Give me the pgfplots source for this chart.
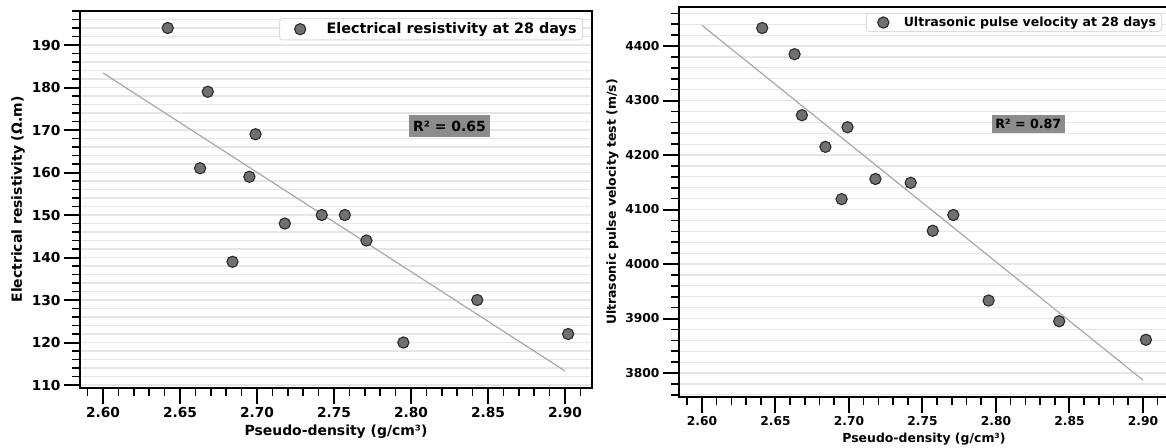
\documentclass[border=0pt]{standalone}
\usepackage{fontspec}
\setmainfont{DejaVu Sans}
\usepackage{pgfplots}
\pgfplotsset{compat=1.18}

\definecolor{ptfill}{HTML}{707070}
\definecolor{ptedge}{HTML}{2B2B2B}
\definecolor{gridc}{HTML}{E6E6E6}
\definecolor{fitc}{HTML}{A8A8A8}
\definecolor{rbox}{HTML}{8C8C8C}
\definecolor{legc}{HTML}{DDDDDD}

\pgfplotsset{
  commonstyle/.style={
    scale only axis,
    axis line style={line width=2bp, black},
    tick align=outside,
    tick pos=left,
    major tick length=16bp,
    minor tick length=8bp,
    tick style={black, line width=2bp},
    minor tick style={line width=1.6bp},
    ymajorgrids, yminorgrids,
    major grid style={gridc, line width=1.2bp},
    minor grid style={gridc, line width=1.2bp},
    /pgf/number format/assume math mode=true,
    /pgf/number format/set thousands separator={},
    xticklabel style={/pgf/number format/fixed, /pgf/number format/fixed zerofill, /pgf/number format/precision=2},
    xtick={2.60,2.65,2.70,2.75,2.80,2.85,2.90},
    minor xtick={2.59,2.61,2.62,2.63,2.64,2.66,2.67,2.68,2.69,2.71,2.72,2.73,2.74,2.76,2.77,2.78,2.79,2.81,2.82,2.83,2.84,2.86,2.87,2.88,2.89,2.91},
    xlabel={Pseudo-density (g/cm³)},
    legend cell align=left,
  },
  ptstyle/.style={only marks, mark=*, mark size=5.6bp, mark options={fill=ptfill, draw=ptedge, line width=1.1bp}},
}

\begin{document}
\begin{tikzpicture}
\useasboundingbox (0,0) rectangle (1166bp,448bp);

% ---------------- Left panel ----------------
\begin{axis}[commonstyle,
  at={(80bp,60bp)}, anchor=south west,
  width=512bp, height=377bp,
  xmin=2.585, xmax=2.9175, ymin=109.3, ymax=198,
  ytick={110,120,130,140,150,160,170,180,190},
  minor ytick={112,114,116,118,122,124,126,128,132,134,136,138,142,144,146,148,152,154,156,158,162,164,166,168,172,174,176,178,182,184,186,188,192,194,196,198},
  tick label style={font=\fontsize{13.8}{16}\selectfont\bfseries},
  label style={font=\fontsize{14}{16}\selectfont\bfseries},
  ylabel={Electrical resistivity (Ω.m)},
  legend style={at={(1,1)}, anchor=north east, xshift=-9bp, yshift=-7bp,
    draw=legc, rounded corners=3bp, fill=white, line width=1bp,
    font=\fontsize{14.4}{16}\selectfont\bfseries, inner xsep=4bp, inner ysep=2.5bp},
  legend image code/.code={\path (0bp,0bp) (40bp,0bp);
    \filldraw[fill=ptfill, draw=ptedge, line width=1.1bp] (16bp,0bp) circle[radius=5.6bp];},
]
\addplot[fitc, line width=1.2bp, forget plot] coordinates {(2.60,183.4) (2.90,113.3)};
\addplot[ptstyle] coordinates {
(2.642,194) (2.668,179) (2.699,169) (2.663,161) (2.695,159) (2.718,148) (2.684,139)
(2.742,150) (2.757,150) (2.771,144) (2.795,120) (2.843,130) (2.902,122)};
\addlegendentry{Electrical resistivity at 28 days}
\node[fill=rbox, inner xsep=4bp, inner ysep=5.5bp, font=\fontsize{14}{16}\selectfont\bfseries] at (axis cs:2.825,170.9) {R² = 0.65};
\end{axis}

% ---------------- Right panel ----------------
\begin{axis}[commonstyle,
  at={(679bp,51bp)}, anchor=south west,
  width=490bp, height=390bp,
  xmin=2.5844, xmax=2.9177, ymin=3756, ymax=4471.6,
  ytick={3800,3900,4000,4100,4200,4300,4400},
  minor ytick={3760,3780,3820,3840,3860,3880,3920,3940,3960,3980,4020,4040,4060,4080,4120,4140,4160,4180,4220,4240,4260,4280,4320,4340,4360,4380,4420,4440,4460},
  tick label style={font=\fontsize{12.3}{14}\selectfont\bfseries},
  label style={font=\fontsize{12.5}{14}\selectfont\bfseries},
  ylabel={Ultrasonic pulse velocity test (m/s)},
  legend style={at={(1,1)}, anchor=north east, xshift=-7bp, yshift=-6bp,
    draw=legc, rounded corners=3bp, fill=white, line width=1bp,
    font=\fontsize{12.6}{14}\selectfont\bfseries, inner xsep=3.5bp, inner ysep=1.5bp},
  legend image code/.code={\path (0bp,0bp) (31bp,0bp);
    \filldraw[fill=ptfill, draw=ptedge, line width=1.1bp] (13bp,0bp) circle[radius=5.6bp];},
]
\addplot[fitc, line width=1.2bp, forget plot] coordinates {(2.60,4438) (2.90,3787)};
\addplot[ptstyle] coordinates {
(2.641,4433) (2.663,4385) (2.668,4273) (2.699,4251) (2.684,4215) (2.695,4119) (2.718,4156)
(2.742,4149) (2.771,4090) (2.757,4061) (2.795,3933) (2.843,3895) (2.902,3861)};
\addlegendentry{Ultrasonic pulse velocity at 28 days}
\node[fill=rbox, inner xsep=3.5bp, inner ysep=4.2bp, font=\fontsize{12.7}{14}\selectfont\bfseries] at (axis cs:2.822,4257) {R² = 0.87};
\end{axis}
\end{tikzpicture}
\end{document}
